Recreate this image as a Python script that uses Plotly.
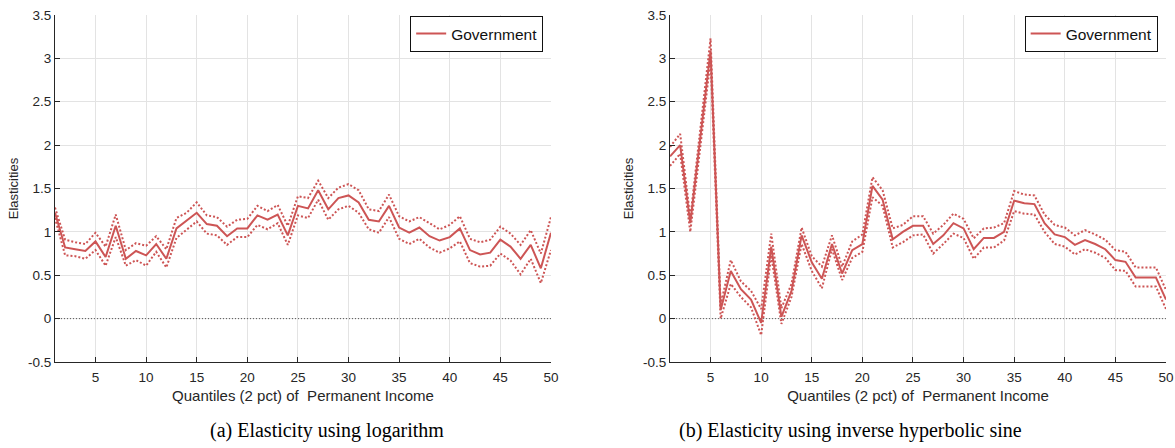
import plotly.graph_objects as go

quantiles = list(range(1, 51))

# Panel (a): logarithm
log_main = [1.22, 0.82, 0.80, 0.78, 0.89, 0.71, 1.07, 0.69, 0.78, 0.73,
            0.86, 0.69, 1.04, 1.13, 1.22, 1.09, 1.07, 0.95, 1.04, 1.04,
            1.19, 1.14, 1.20, 0.96, 1.30, 1.27, 1.48, 1.26, 1.39, 1.42,
            1.34, 1.14, 1.12, 1.30, 1.05, 0.99, 1.05, 0.95, 0.90, 0.94,
            1.04, 0.79, 0.74, 0.76, 0.91, 0.83, 0.69, 0.85, 0.58, 0.99]
log_upper = [1.28, 0.91, 0.88, 0.86, 0.99, 0.83, 1.20, 0.79, 0.87, 0.84,
             0.95, 0.80, 1.16, 1.22, 1.34, 1.19, 1.17, 1.06, 1.14, 1.15,
             1.30, 1.24, 1.31, 1.07, 1.41, 1.39, 1.59, 1.39, 1.51, 1.55,
             1.48, 1.26, 1.24, 1.43, 1.18, 1.12, 1.17, 1.10, 1.03, 1.08,
             1.18, 0.92, 0.88, 0.91, 1.06, 0.98, 0.85, 1.02, 0.75, 1.17]
log_lower = [1.16, 0.73, 0.72, 0.69, 0.79, 0.61, 0.94, 0.61, 0.675, 0.61,
             0.77, 0.59, 0.93, 1.02, 1.12, 0.98, 0.96, 0.85, 0.94, 0.94,
             1.08, 1.03, 1.10, 0.85, 1.19, 1.16, 1.37, 1.14, 1.26, 1.30,
             1.22, 1.03, 0.99, 1.17, 0.92, 0.86, 0.92, 0.82, 0.76, 0.81,
             0.89, 0.64, 0.60, 0.61, 0.75, 0.67, 0.51, 0.69, 0.41, 0.79]

# Panel (b): inverse hyperbolic sine
ihs_main = [1.87, 2.00, 1.10, 2.10, 3.09, 0.10, 0.55, 0.34, 0.22, -0.05,
            0.83, 0.02, 0.32, 0.96, 0.65, 0.46, 0.86, 0.52, 0.79, 0.86,
            1.53, 1.37, 0.915, 1.00, 1.07, 1.07, 0.86, 0.96, 1.10, 1.04,
            0.80, 0.93, 0.93, 1.00, 1.36, 1.33, 1.32, 1.10, 0.97, 0.94,
            0.85, 0.905, 0.86, 0.80, 0.675, 0.655, 0.475, 0.475, 0.475, 0.22]
ihs_upper = [1.98, 2.13, 1.16, 2.20, 3.23, 0.16, 0.675, 0.43, 0.32, 0.11,
             0.98, 0.12, 0.40, 1.05, 0.72, 0.60, 0.96, 0.60, 0.89, 0.97,
             1.63, 1.48, 1.04, 1.08, 1.18, 1.18, 0.98, 1.08, 1.21, 1.15,
             0.925, 1.04, 1.05, 1.10, 1.47, 1.43, 1.42, 1.20, 1.08, 1.05,
             0.96, 1.02, 0.97, 0.91, 0.79, 0.77, 0.59, 0.59, 0.59, 0.33]
ihs_lower = [1.76, 1.90, 1.00, 2.00, 2.98, 0.00, 0.40, 0.25, 0.13, -0.19,
             0.73, -0.06, 0.25, 0.86, 0.55, 0.35, 0.80, 0.445, 0.70, 0.77,
             1.40, 1.30, 0.82, 0.88, 0.96, 0.97, 0.75, 0.86, 0.98, 0.93,
             0.69, 0.82, 0.82, 0.90, 1.24, 1.21, 1.20, 1.00, 0.86, 0.83,
             0.74, 0.80, 0.76, 0.70, 0.56, 0.55, 0.37, 0.37, 0.37, 0.11]

y_ticks = [-0.5, 0, 0.5, 1, 1.5, 2, 2.5, 3, 3.5]
y_tick_text = ["-0.5", "0", "0.5", "1", "1.5", "2", "2.5", "3", "3.5"]
x_ticks = [5, 10, 15, 20, 25, 30, 35, 40, 45, 50]
series_name = "Government"
x_title = "Quantiles (2 pct) of  Permanent Income"
y_title = "Elasticities"
captions = ["(a) Elasticity using logarithm", "(b) Elasticity using inverse hyperbolic sine"]

RED = "#cd5555"
AX = "#262626"
GRID = "#e3e3e3"
SANS = "Liberation Sans"

fig = go.Figure()

panels = [("x", "y", "legend", log_main, log_upper, log_lower),
          ("x2", "y2", "legend2", ihs_main, ihs_upper, ihs_lower)]
for xa, ya, lg, m, u, lo in panels:
    fig.add_trace(go.Scatter(x=[1, 50], y=[0, 0], xaxis=xa, yaxis=ya, mode="lines",
                             line=dict(color="#555555", width=1, dash="1px,2px"),
                             showlegend=False, hoverinfo="skip"))
    for band in (u, lo):
        fig.add_trace(go.Scatter(x=quantiles, y=band, xaxis=xa, yaxis=ya, mode="lines",
                                 line=dict(color=RED, width=2, dash="2px,2px"),
                                 showlegend=False))
    fig.add_trace(go.Scatter(x=quantiles, y=m, xaxis=xa, yaxis=ya, mode="lines",
                             line=dict(color=RED, width=2), name=series_name,
                             legend=lg, showlegend=True))

axis_common = dict(showgrid=True, gridcolor=GRID, gridwidth=1, zeroline=False,
                   showline=True, linecolor=AX, linewidth=1, ticks="inside",
                   ticklen=5, tickcolor=AX, automargin=False,
                   tickfont=dict(family=SANS, size=13.5, color=AX))

xtitle = dict(text=x_title, standoff=6, font=dict(family=SANS, size=15, color=AX))
ytitle = dict(text=y_title, standoff=6, font=dict(family=SANS, size=13, color=AX))

xd1 = [0, 0.4464]
xd2 = [0.5536, 1]
legend_common = dict(y=0.997, xanchor="right", yanchor="top",
                     bgcolor="white", bordercolor="#111111", borderwidth=1,
                     font=dict(family=SANS, size=15.5, color="#111111"),
                     itemwidth=30, tracegroupgap=0)
fig.update_layout(
    width=1175, height=448,
    margin=dict(l=55, r=9, t=15, b=86, autoexpand=False),
    paper_bgcolor="white", plot_bgcolor="white",
    xaxis=dict(domain=xd1, range=[1, 50], tickvals=x_ticks, anchor="y", title=xtitle,
               ticklabelstandoff=3, **axis_common),
    yaxis=dict(domain=[0, 1], range=[-0.5, 3.5], tickvals=y_ticks, ticktext=y_tick_text,
               anchor="x", title=ytitle, **axis_common),
    xaxis2=dict(domain=xd2, range=[1, 50], tickvals=x_ticks, anchor="y2", title=xtitle,
                ticklabelstandoff=3, **axis_common),
    yaxis2=dict(domain=[0, 1], range=[-0.5, 3.5], tickvals=y_ticks, ticktext=y_tick_text,
                anchor="x2", title=ytitle, **axis_common),
    legend=dict(x=xd1[1] - 0.007, **legend_common),
    legend2=dict(x=xd2[1] - 0.0075, **legend_common),
    annotations=[
        dict(text=captions[0], x=0.2448, y=-0.196, xref="paper", yref="paper",
             xanchor="center", yanchor="middle", showarrow=False,
             font=dict(family="Liberation Serif", size=20, color="black")),
        dict(text=captions[1], x=0.7156, y=-0.196, xref="paper", yref="paper",
             xanchor="center", yanchor="middle", showarrow=False,
             font=dict(family="Liberation Serif", size=20, color="black")),
    ],
)

fig.write_html("out.html", config={"displayModeBar": False},
               post_script="document.body.style.margin='0';document.body.style.overflow='hidden';")
